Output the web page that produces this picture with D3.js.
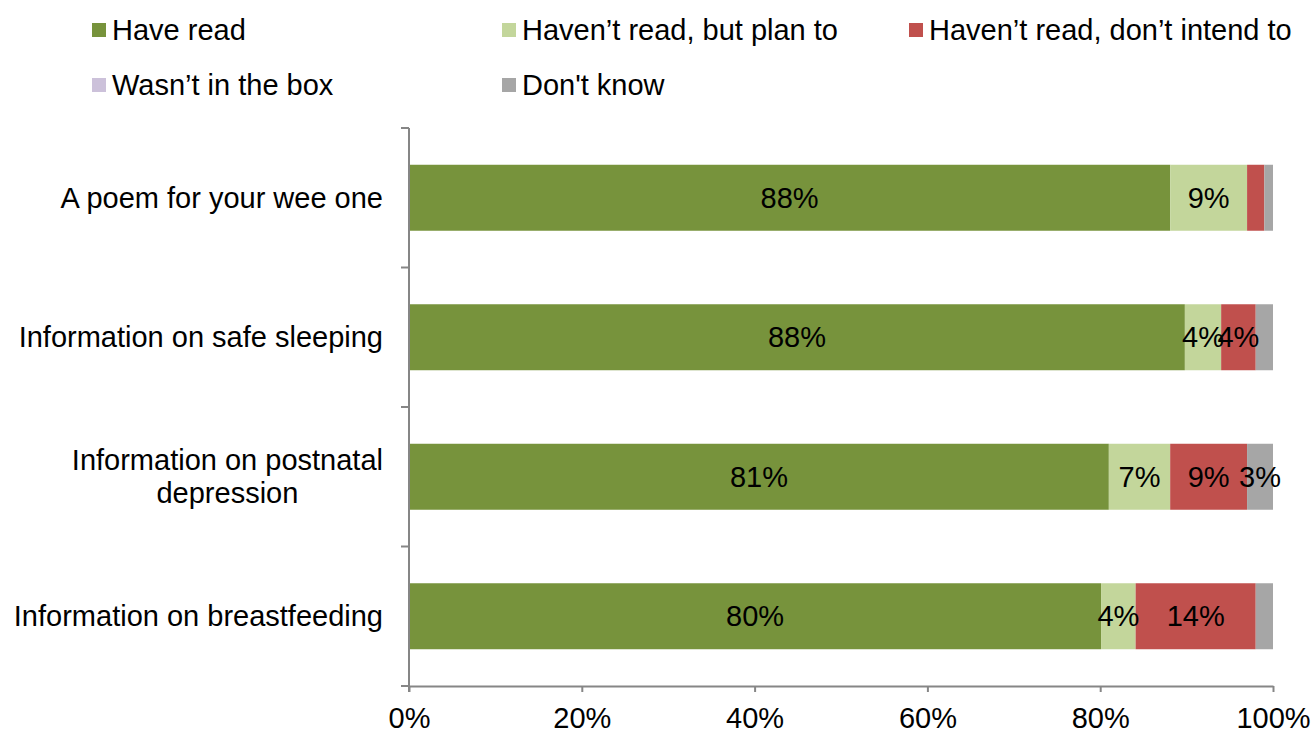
<!DOCTYPE html>
<html>
<head>
<meta charset="utf-8">
<script src="https://cdn.jsdelivr.net/npm/d3@7"></script>
<style>
  html, body { margin: 0; padding: 0; background: #fff; }
  svg { display: block; font-family: "Liberation Sans", Arial, sans-serif; }
</style>
</head>
<body>
<svg id="chart" width="1313" height="731"></svg>
<script>
// ---- Data ----
const categories = [
  ["A poem for your wee one"],
  ["Information on safe sleeping"],
  ["Information on postnatal", "depression"],
  ["Information on breastfeeding"]
];
const seriesNames = ["Have read", "Haven\u2019t read, but plan to", "Haven\u2019t read, don\u2019t intend to", "Wasn\u2019t in the box", "Don't know"];
const seriesColors = ["#77933c", "#c3d69b", "#c0504d", "#ccc1da", "#a6a6a6"];
const haveRead      = [88.1, 89.8, 81.0, 80.1];
const planTo        = [8.9, 4.2, 7.1, 4.0];
const dontIntend    = [2.0, 4.0, 8.9, 13.9];
const notInBox      = [0.0, 0.0, 0.0, 0.0];
const dontKnow      = [1.0, 2.0, 3.0, 2.0];
const haveReadLabels   = ["88%", "88%", "81%", "80%"];
const planToLabels     = ["9%", "4%", "7%", "4%"];
const dontIntendLabels = ["", "4%", "9%", "14%"];
const notInBoxLabels   = ["", "", "", ""];
const dontKnowLabels   = ["", "", "3%", ""];
const xTicks = [0, 20, 40, 60, 80, 100];

const seriesValues = [haveRead, planTo, dontIntend, notInBox, dontKnow];
const seriesLabels = [haveReadLabels, planToLabels, dontIntendLabels, notInBoxLabels, dontKnowLabels];

// ---- Layout ----
const svg = d3.select("#chart");
const pL = 409, pR = 1273, pT = 128, pB = 686;
const fontSize = 29;

const x = d3.scaleLinear().domain([0, 100]).range([pL, pR]);
const y = d3.scaleBand().domain(d3.range(categories.length)).range([pT, pB])
  .paddingInner(0.527).paddingOuter(0.2635);

// stacked
const rows = categories.map((c, i) => {
  let acc = 0;
  return seriesValues.map((vals, s) => {
    const seg = { cat: i, s, x0: acc, x1: acc + vals[i], label: seriesLabels[s][i] };
    acc += vals[i];
    return seg;
  });
}).flat();

const g = svg.append("g");
g.selectAll("rect.bar").data(rows.filter(d => d.x1 > d.x0)).join("rect")
  .attr("class", "bar")
  .attr("x", d => x(d.x0))
  .attr("width", d => x(d.x1) - x(d.x0))
  .attr("y", d => y(d.cat))
  .attr("height", y.bandwidth())
  .attr("fill", d => seriesColors[d.s]);

g.selectAll("text.lbl").data(rows.filter(d => d.label)).join("text")
  .attr("class", "lbl")
  .attr("x", d => x((d.x0 + d.x1) / 2))
  .attr("y", d => y(d.cat) + y.bandwidth() / 2)
  .attr("dy", "0.35em")
  .attr("text-anchor", "middle")
  .attr("font-size", fontSize)
  .attr("fill", "#000")
  .text(d => d.label);

// X axis
const xAxis = svg.append("g").attr("transform", `translate(0,${pB})`)
  .call(d3.axisBottom(x).tickValues(xTicks).tickFormat(d => d + "%").tickSize(6).tickSizeOuter(0));
xAxis.select(".domain").attr("stroke", "#868686").attr("stroke-width", 2);
xAxis.selectAll(".tick line").attr("stroke", "#868686").attr("stroke-width", 2);
xAxis.selectAll(".tick text").attr("font-size", fontSize).attr("fill", "#000")
  .attr("font-family", "Liberation Sans, Arial, sans-serif").attr("dy", "0.35em").attr("y", 32);

// Y axis line and ticks between categories
const yAx = svg.append("g");
yAx.append("line").attr("x1", pL).attr("x2", pL).attr("y1", pT).attr("y2", pB + 6)
  .attr("stroke", "#868686").attr("stroke-width", 2);
const boundaries = d3.range(categories.length + 1).map(i => pT + i * y.step());
yAx.selectAll("line.tk").data(boundaries).join("line").attr("class", "tk")
  .attr("x1", pL - 8).attr("x2", pL).attr("y1", d => d).attr("y2", d => d)
  .attr("stroke", "#868686").attr("stroke-width", 2);

// Category labels
const lineH = 33;
categories.forEach((lines, i) => {
  const cy = y(i) + y.bandwidth() / 2;
  const t = svg.append("text").attr("font-size", fontSize).attr("fill", "#000")
    .attr("text-anchor", "middle");
  lines.forEach((ln, k) => {
    t.append("tspan").attr("y", cy + (k - (lines.length - 1) / 2) * lineH).attr("dy", "0.35em").text(ln);
  });
  let maxW = 0;
  t.selectAll("tspan").each(function () { maxW = Math.max(maxW, this.getComputedTextLength()); });
  t.selectAll("tspan").attr("x", pL - 26 - maxW / 2);
});

// Legend
const legendPos = [
  { x: 92, y: 30 }, { x: 502, y: 30 }, { x: 909, y: 30 },
  { x: 92, y: 85 }, { x: 502, y: 85 }
];
const leg = svg.append("g");
seriesNames.forEach((name, i) => {
  const p = legendPos[i];
  leg.append("rect").attr("x", p.x).attr("y", p.y - 7).attr("width", 14).attr("height", 14)
    .attr("fill", seriesColors[i]);
  leg.append("text").attr("x", p.x + 20).attr("y", p.y).attr("dy", "0.35em")
    .attr("font-size", fontSize).attr("fill", "#000").text(name);
});
</script>
</body>
</html>
